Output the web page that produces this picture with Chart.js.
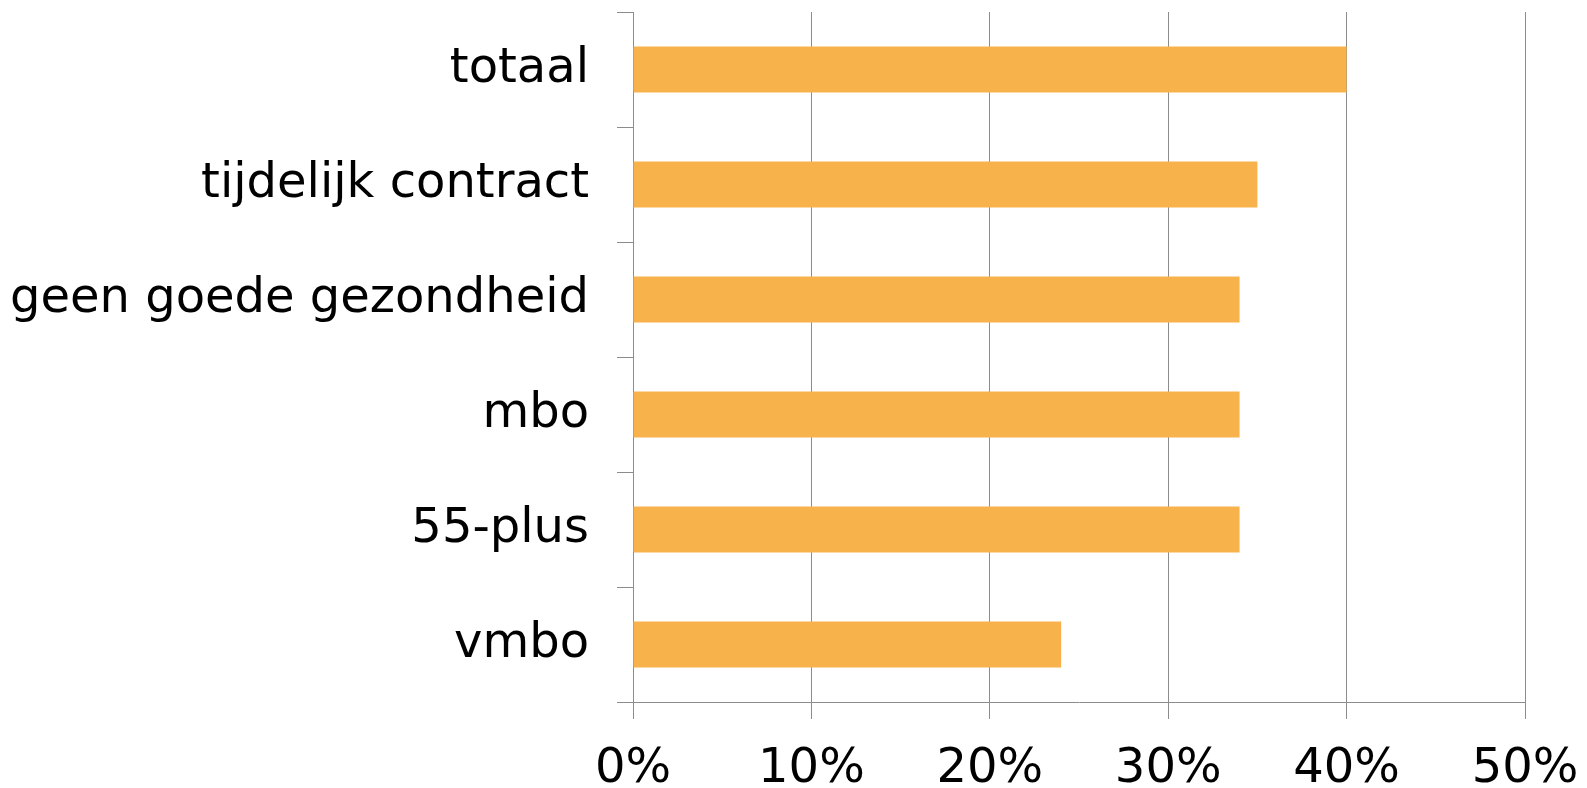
<!DOCTYPE html>
<html>
<head>
<meta charset="utf-8">
<script src="https://cdn.jsdelivr.net/npm/chart.js@4"></script>
<style>
  html, body { margin: 0; padding: 0; background: #fff; }
  #wrap { width: 1587px; height: 788px; }
</style>
</head>
<body>
<div id="wrap"><canvas id="chart"></canvas></div>
<script>
// data
const categories = ['totaal', 'tijdelijk contract', 'geen goede gezondheid', 'mbo', '55-plus', 'vmbo'];
const values = [40, 35, 34, 34, 34, 24];
const xTicks = [0, 10, 20, 30, 40, 50];

const gridColor = '#8c8c8c';

new Chart(document.getElementById('chart'), {
  type: 'bar',
  data: {
    labels: categories,
    datasets: [{
      data: values,
      backgroundColor: 'rgb(248,178,75)',
      barPercentage: 0.4,
      categoryPercentage: 1.0
    }]
  },
  options: {
    indexAxis: 'y',
    responsive: true,
    maintainAspectRatio: false,
    animation: false,
    layout: { padding: { top: 12, right: 62, left: 0, bottom: 0 } },
    plugins: { legend: { display: false }, tooltip: { enabled: false } },
    scales: {
      x: {
        min: 0,
        max: 50,
        afterBuildTicks: (scale) => { scale.ticks = xTicks.map(v => ({ value: v })); },
        afterFit: (scale) => {
          scale.height = 86;
          scale.paddingLeft = 0;
          scale.paddingRight = 0;
        },
        grid: { color: gridColor, lineWidth: 1, tickLength: 17 },
        border: { color: gridColor },
        ticks: {
          color: '#000',
          padding: 22,
          font: { family: 'DejaVu Sans', size: 48 },
          callback: (v) => v + '%',
          maxRotation: 0
        }
      },
      y: {
        offset: true,
        afterFit: (scale) => {
          scale.width = 633;
          scale.paddingTop = 0;
          scale.paddingBottom = 0;
        },
        grid: { color: gridColor, lineWidth: 1, tickLength: 16, offset: true, drawOnChartArea: false },
        border: { color: gridColor },
        ticks: {
          color: '#000',
          padding: 28,
          font: { family: 'DejaVu Sans', size: 48 }
        }
      }
    }
  }
});
</script>
</body>
</html>
